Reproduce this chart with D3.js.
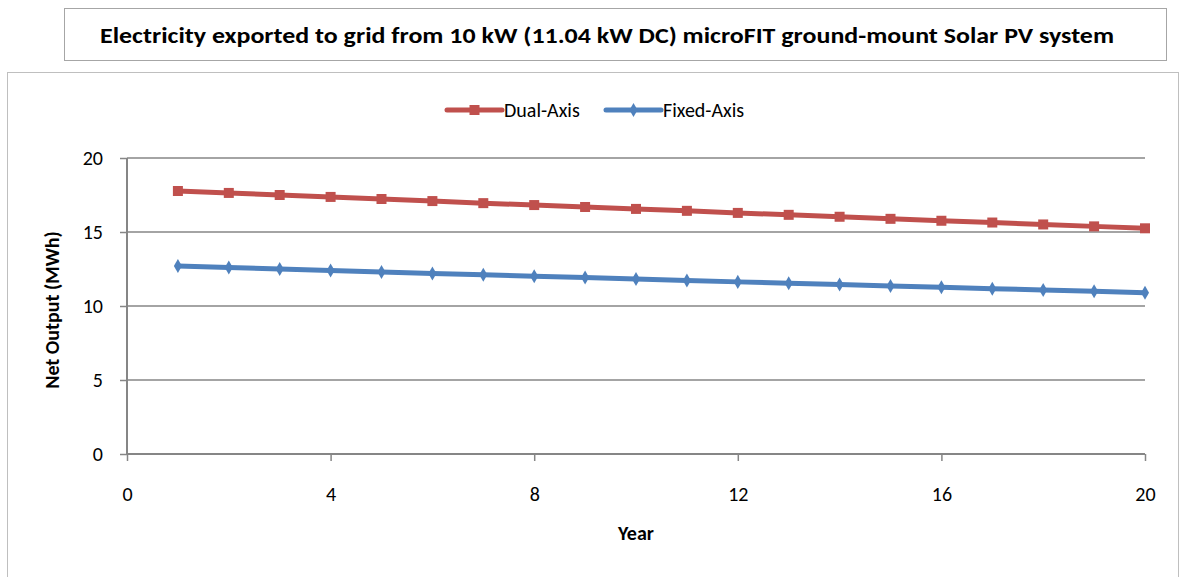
<!DOCTYPE html>
<html>
<head>
<meta charset="utf-8">
<script src="https://cdn.jsdelivr.net/npm/d3@7"></script>
<style>
  body { margin: 0; background: #fff; }
  svg text { font-family: Carlito, Lato, "Open Sans", "Liberation Sans", sans-serif; fill: #000; }
</style>
</head>
<body>
<svg width="1181" height="577"></svg>
<script>
// values
var years = [1,2,3,4,5,6,7,8,9,10,11,12,13,14,15,16,17,18,19,20];
var dualAxis = [17.77,17.64,17.50,17.37,17.23,17.09,16.95,16.82,16.69,16.56,16.43,16.29,16.16,16.03,15.89,15.76,15.64,15.51,15.38,15.25];
var fixedAxis = [12.70,12.60,12.50,12.40,12.30,12.20,12.11,12.01,11.92,11.82,11.73,11.63,11.54,11.45,11.35,11.26,11.17,11.08,10.99,10.90];
var xTicks = [0,4,8,12,16,20];
var yTicks = [0,5,10,15,20];

var series = [
  {name: "Dual-Axis", values: dualAxis, color: "#c0504d", marker: "square"},
  {name: "Fixed-Axis", values: fixedAxis, color: "#4f81bd", marker: "diamond"}
];

var fontStack = 'Carlito, Lato, "Open Sans", "Liberation Sans", sans-serif';
var svg = d3.select("svg");

// title box
svg.append("rect").attr("x", 64.5).attr("y", 8.5).attr("width", 1102).attr("height", 52)
    .attr("fill", "#fff").attr("stroke", "#a6a6a6");
svg.append("text").attr("x", 607).attr("y", 43).attr("text-anchor", "middle")
    .style("font-size", "22px").style("font-weight", "bold")
    .attr("textLength", 1014).attr("lengthAdjust", "spacingAndGlyphs")
    .text("Electricity exported to grid from 10 kW (11.04 kW DC) microFIT ground-mount Solar PV system");

// chart box
svg.append("rect").attr("x", 7.5).attr("y", 72.5).attr("width", 1171).attr("height", 530)
    .attr("fill", "#fff").attr("stroke", "#bfbfbf");

var x = d3.scaleLinear().domain([0, 20]).range([127, 1145]);
var y = d3.scaleLinear().domain([0, 20]).range([454, 158]);

var g = svg.append("g");

// gridlines
g.selectAll(".grid").data(yTicks.filter(function(d) { return d > 0; })).enter().append("line")
    .attr("x1", x(0)).attr("x2", x(20))
    .attr("y1", function(d) { return y(d); }).attr("y2", function(d) { return y(d); })
    .attr("stroke", "#868686").attr("stroke-width", 1.5);

// y axis
var yAxis = g.append("g").attr("transform", "translate(" + x(0) + ",0)")
    .call(d3.axisLeft(y).tickValues(yTicks).tickSize(7).tickPadding(17));
// x axis
var xAxis = g.append("g").attr("transform", "translate(0," + y(0) + ")")
    .call(d3.axisBottom(x).tickValues(xTicks).tickSize(7).tickPadding(26));

[yAxis, xAxis].forEach(function(a) {
  a.select(".domain").attr("stroke", "#868686").attr("stroke-width", 2);
  a.selectAll(".tick line").attr("stroke", "#868686").attr("stroke-width", 1.5);
  a.selectAll(".tick text").style("font-size", "20px").attr("fill", "#000")
      .style("font-family", fontStack);
});
xAxis.select(".domain").attr("d", "M" + x(0) + ",0H" + x(20));
yAxis.select(".domain").attr("d", "M0," + y(0) + "V" + y(20));
yAxis.selectAll(".tick line").attr("x1", 0);
xAxis.selectAll(".tick line").attr("y1", 0);

// axis titles
svg.append("text").attr("x", 636).attr("y", 540).attr("text-anchor", "middle")
    .style("font-size", "20px").style("font-weight", "bold").text("Year");
svg.append("text").attr("transform", "translate(59,310) rotate(-90)").attr("text-anchor", "middle")
    .style("font-size", "20px").style("font-weight", "bold").text("Net Output (MWh)");

var line = d3.line().x(function(d, i) { return x(years[i]); }).y(function(d) { return y(d); });

function drawMarker(sel, type, color, size) {
  if (type === "square") {
    sel.append("rect").attr("x", -size / 2).attr("y", -size / 2).attr("width", size).attr("height", size)
        .attr("fill", color);
  } else {
    sel.append("path").attr("d", d3.symbol().type(d3.symbolDiamond).size(size * size * 0.7))
        .attr("fill", color);
  }
}

series.forEach(function(s) {
  g.append("path").datum(s.values).attr("d", line)
      .attr("fill", "none").attr("stroke", s.color).attr("stroke-width", 5).attr("stroke-linejoin", "round");
  g.selectAll(".m-" + s.marker).data(s.values).enter().append("g")
      .attr("transform", function(d, i) { return "translate(" + x(years[i]) + "," + y(d) + ")"; })
      .each(function() { drawMarker(d3.select(this), s.marker, s.color, s.marker === "square" ? 10 : 9); });
});

// legend
var legendItems = [
  {s: series[0], x0: 447, x1: 502, tx: 504},
  {s: series[1], x0: 606, x1: 661, tx: 663}
];
legendItems.forEach(function(l) {
  svg.append("line").attr("x1", l.x0).attr("x2", l.x1).attr("y1", 110).attr("y2", 110)
      .attr("stroke", l.s.color).attr("stroke-width", 5).attr("stroke-linecap", "round");
  var m = svg.append("g").attr("transform", "translate(" + ((l.x0 + l.x1) / 2) + ",110)");
  drawMarker(m, l.s.marker, l.s.color, l.s.marker === "square" ? 10 : 9);
  svg.append("text").attr("x", l.tx).attr("y", 117).style("font-size", "20px").text(l.s.name);
});
</script>
</body>
</html>
